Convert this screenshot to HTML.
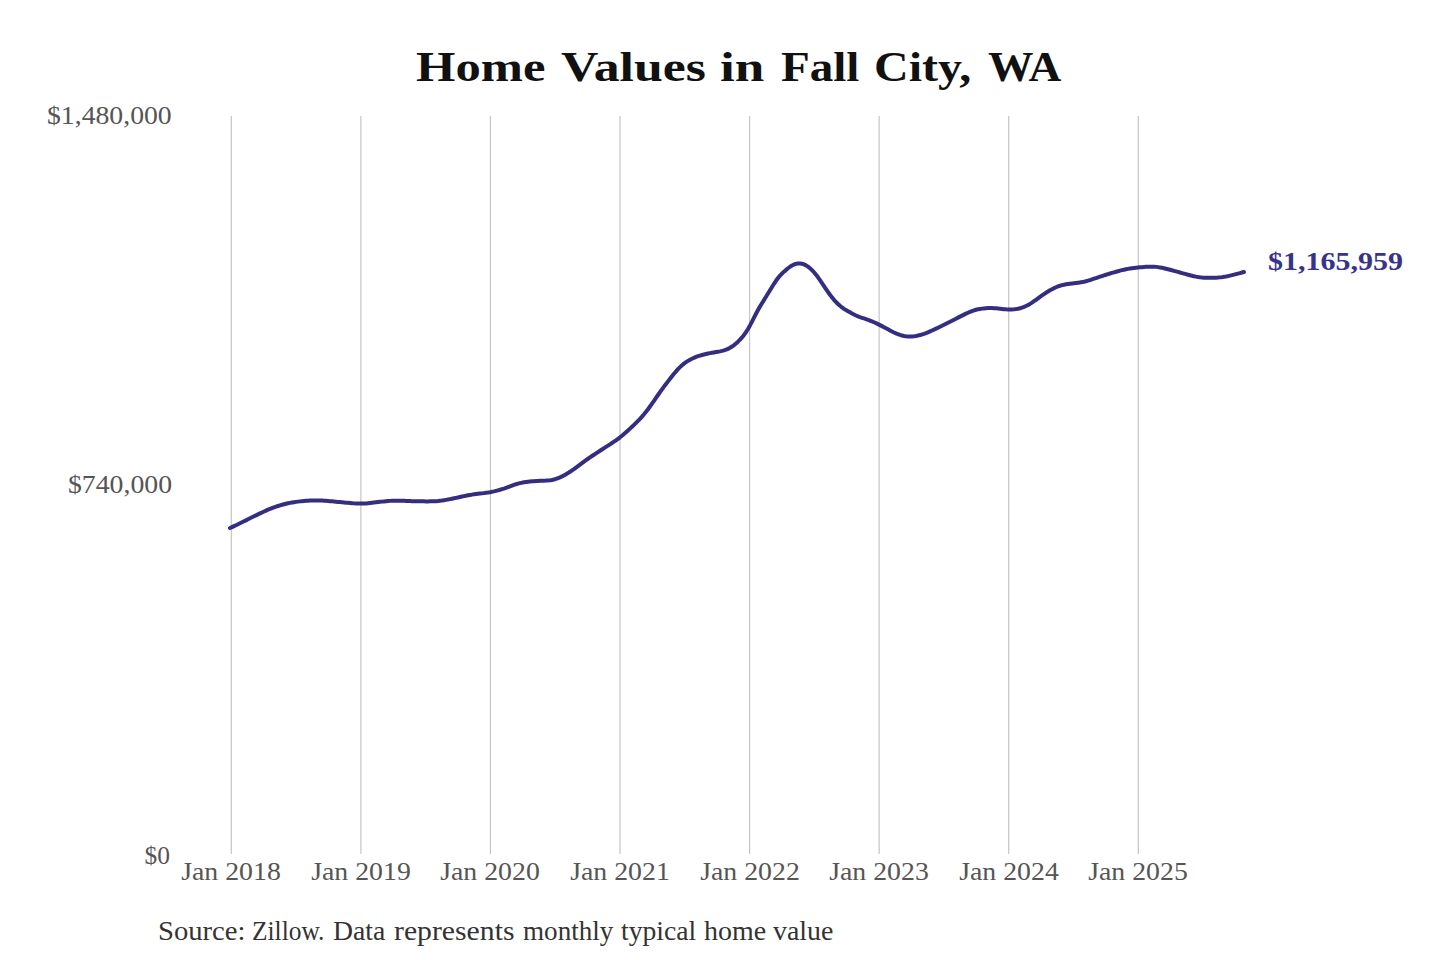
<!DOCTYPE html>
<html><head><meta charset="utf-8"><style>
html,body{margin:0;padding:0;background:#fff;width:1440px;height:960px;overflow:hidden}
.t{position:absolute;font-family:"Liberation Serif",serif;line-height:1;white-space:nowrap;transform-origin:0 0}
.xl{position:absolute;width:100px;text-align:center;top:859.14px;font-family:"Liberation Serif",serif;font-size:25.5px;line-height:1;color:#555;white-space:nowrap;transform:scaleX(1.09);transform-origin:50% 0}
svg{position:absolute;left:0;top:0}
</style></head><body>
<svg width="1440" height="960" viewBox="0 0 1440 960">
<g stroke="#c4c4c4" stroke-width="1.2">
<line x1="231.30" y1="116" x2="231.30" y2="854"/>
<line x1="360.87" y1="116" x2="360.87" y2="854"/>
<line x1="490.44" y1="116" x2="490.44" y2="854"/>
<line x1="620.01" y1="116" x2="620.01" y2="854"/>
<line x1="749.58" y1="116" x2="749.58" y2="854"/>
<line x1="879.15" y1="116" x2="879.15" y2="854"/>
<line x1="1008.72" y1="116" x2="1008.72" y2="854"/>
<line x1="1138.29" y1="116" x2="1138.29" y2="854"/>
</g>
<path d="M230.0,528.00 L232.0,527.07 L234.0,526.14 L236.0,525.20 L238.0,524.25 L240.0,523.29 L242.0,522.32 L244.0,521.33 L246.0,520.34 L248.0,519.33 L250.0,518.33 L252.0,517.32 L254.0,516.33 L256.0,515.34 L258.0,514.36 L260.0,513.39 L262.0,512.43 L264.0,511.49 L266.0,510.58 L268.0,509.70 L270.0,508.86 L272.0,508.08 L274.0,507.34 L276.0,506.64 L278.0,505.98 L280.0,505.36 L282.0,504.78 L284.0,504.24 L286.0,503.75 L288.0,503.30 L290.0,502.89 L292.0,502.52 L294.0,502.19 L296.0,501.89 L298.0,501.62 L300.0,501.38 L302.0,501.16 L304.0,500.97 L306.0,500.80 L308.0,500.66 L310.0,500.54 L312.0,500.45 L314.0,500.40 L316.0,500.38 L318.0,500.40 L320.0,500.45 L322.0,500.54 L324.0,500.66 L326.0,500.81 L328.0,500.98 L330.0,501.16 L332.0,501.35 L334.0,501.54 L336.0,501.73 L338.0,501.92 L340.0,502.10 L342.0,502.28 L344.0,502.47 L346.0,502.66 L348.0,502.85 L350.0,503.04 L352.0,503.21 L354.0,503.37 L356.0,503.50 L358.0,503.58 L360.0,503.62 L362.0,503.60 L364.0,503.53 L366.0,503.40 L368.0,503.22 L370.0,503.00 L372.0,502.77 L374.0,502.53 L376.0,502.29 L378.0,502.06 L380.0,501.84 L382.0,501.62 L384.0,501.41 L386.0,501.21 L388.0,501.03 L390.0,500.88 L392.0,500.77 L394.0,500.69 L396.0,500.66 L398.0,500.66 L400.0,500.70 L402.0,500.76 L404.0,500.83 L406.0,500.91 L408.0,500.99 L410.0,501.07 L412.0,501.14 L414.0,501.20 L416.0,501.25 L418.0,501.29 L420.0,501.32 L422.0,501.35 L424.0,501.37 L426.0,501.38 L428.0,501.38 L430.0,501.36 L432.0,501.32 L434.0,501.25 L436.0,501.14 L438.0,500.99 L440.0,500.78 L442.0,500.53 L444.0,500.22 L446.0,499.89 L448.0,499.52 L450.0,499.14 L452.0,498.73 L454.0,498.31 L456.0,497.88 L458.0,497.44 L460.0,497.00 L462.0,496.56 L464.0,496.13 L466.0,495.72 L468.0,495.32 L470.0,494.96 L472.0,494.64 L474.0,494.35 L476.0,494.09 L478.0,493.84 L480.0,493.61 L482.0,493.38 L484.0,493.13 L486.0,492.85 L488.0,492.55 L490.0,492.20 L492.0,491.80 L494.0,491.36 L496.0,490.87 L498.0,490.34 L500.0,489.78 L502.0,489.17 L504.0,488.54 L506.0,487.86 L508.0,487.14 L510.0,486.40 L512.0,485.64 L514.0,484.91 L516.0,484.23 L518.0,483.62 L520.0,483.10 L522.0,482.66 L524.0,482.29 L526.0,481.99 L528.0,481.74 L530.0,481.53 L532.0,481.34 L534.0,481.17 L536.0,481.02 L538.0,480.90 L540.0,480.80 L542.0,480.73 L544.0,480.68 L546.0,480.62 L548.0,480.50 L550.0,480.30 L552.0,479.97 L554.0,479.51 L556.0,478.92 L558.0,478.19 L560.0,477.35 L562.0,476.41 L564.0,475.38 L566.0,474.26 L568.0,473.07 L570.0,471.80 L572.0,470.45 L574.0,469.04 L576.0,467.57 L578.0,466.07 L580.0,464.56 L582.0,463.06 L584.0,461.59 L586.0,460.15 L588.0,458.75 L590.0,457.38 L592.0,456.03 L594.0,454.71 L596.0,453.39 L598.0,452.08 L600.0,450.78 L602.0,449.48 L604.0,448.18 L606.0,446.90 L608.0,445.63 L610.0,444.34 L612.0,443.04 L614.0,441.70 L616.0,440.30 L618.0,438.84 L620.0,437.30 L622.0,435.68 L624.0,434.00 L626.0,432.26 L628.0,430.47 L630.0,428.64 L632.0,426.77 L634.0,424.86 L636.0,422.91 L638.0,420.89 L640.0,418.80 L642.0,416.61 L644.0,414.28 L646.0,411.82 L648.0,409.23 L650.0,406.51 L652.0,403.69 L654.0,400.81 L656.0,397.89 L658.0,394.99 L660.0,392.13 L662.0,389.34 L664.0,386.63 L666.0,383.98 L668.0,381.39 L670.0,378.84 L672.0,376.32 L674.0,373.85 L676.0,371.45 L678.0,369.19 L680.0,367.11 L682.0,365.25 L684.0,363.60 L686.0,362.16 L688.0,360.88 L690.0,359.73 L692.0,358.71 L694.0,357.78 L696.0,356.95 L698.0,356.21 L700.0,355.56 L702.0,354.98 L704.0,354.46 L706.0,353.98 L708.0,353.54 L710.0,353.14 L712.0,352.77 L714.0,352.42 L716.0,352.07 L718.0,351.72 L720.0,351.34 L722.0,350.91 L724.0,350.38 L726.0,349.71 L728.0,348.86 L730.0,347.81 L732.0,346.56 L734.0,345.12 L736.0,343.49 L738.0,341.67 L740.0,339.66 L742.0,337.44 L744.0,334.95 L746.0,332.15 L748.0,328.97 L750.0,325.43 L752.0,321.61 L754.0,317.66 L756.0,313.76 L758.0,310.04 L760.0,306.54 L762.0,303.21 L764.0,299.97 L766.0,296.75 L768.0,293.50 L770.0,290.22 L772.0,286.96 L774.0,283.77 L776.0,280.77 L778.0,278.05 L780.0,275.65 L782.0,273.54 L784.0,271.65 L786.0,269.89 L788.0,268.23 L790.0,266.74 L792.0,265.48 L794.0,264.49 L796.0,263.81 L798.0,263.44 L800.0,263.41 L802.0,263.73 L804.0,264.38 L806.0,265.37 L808.0,266.66 L810.0,268.24 L812.0,270.11 L814.0,272.26 L816.0,274.67 L818.0,277.32 L820.0,280.14 L822.0,283.07 L824.0,286.06 L826.0,289.05 L828.0,291.98 L830.0,294.77 L832.0,297.38 L834.0,299.79 L836.0,301.99 L838.0,304.00 L840.0,305.81 L842.0,307.43 L844.0,308.85 L846.0,310.10 L848.0,311.25 L850.0,312.36 L852.0,313.45 L854.0,314.52 L856.0,315.51 L858.0,316.38 L860.0,317.13 L862.0,317.80 L864.0,318.44 L866.0,319.10 L868.0,319.81 L870.0,320.57 L872.0,321.39 L874.0,322.25 L876.0,323.15 L878.0,324.10 L880.0,325.09 L882.0,326.12 L884.0,327.18 L886.0,328.26 L888.0,329.34 L890.0,330.42 L892.0,331.47 L894.0,332.47 L896.0,333.40 L898.0,334.23 L900.0,334.94 L902.0,335.53 L904.0,335.97 L906.0,336.27 L908.0,336.44 L910.0,336.49 L912.0,336.43 L914.0,336.25 L916.0,335.96 L918.0,335.56 L920.0,335.06 L922.0,334.47 L924.0,333.80 L926.0,333.07 L928.0,332.27 L930.0,331.42 L932.0,330.54 L934.0,329.62 L936.0,328.68 L938.0,327.72 L940.0,326.73 L942.0,325.73 L944.0,324.73 L946.0,323.72 L948.0,322.71 L950.0,321.70 L952.0,320.69 L954.0,319.68 L956.0,318.66 L958.0,317.65 L960.0,316.64 L962.0,315.63 L964.0,314.64 L966.0,313.66 L968.0,312.72 L970.0,311.83 L972.0,311.03 L974.0,310.33 L976.0,309.75 L978.0,309.28 L980.0,308.91 L982.0,308.62 L984.0,308.39 L986.0,308.22 L988.0,308.11 L990.0,308.07 L992.0,308.10 L994.0,308.19 L996.0,308.35 L998.0,308.55 L1000.0,308.76 L1002.0,308.98 L1004.0,309.18 L1006.0,309.34 L1008.0,309.44 L1010.0,309.47 L1012.0,309.43 L1014.0,309.30 L1016.0,309.07 L1018.0,308.73 L1020.0,308.26 L1022.0,307.65 L1024.0,306.91 L1026.0,306.04 L1028.0,305.03 L1030.0,303.89 L1032.0,302.61 L1034.0,301.22 L1036.0,299.77 L1038.0,298.29 L1040.0,296.83 L1042.0,295.42 L1044.0,294.06 L1046.0,292.75 L1048.0,291.50 L1050.0,290.32 L1052.0,289.21 L1054.0,288.19 L1056.0,287.27 L1058.0,286.45 L1060.0,285.75 L1062.0,285.17 L1064.0,284.69 L1066.0,284.30 L1068.0,283.99 L1070.0,283.71 L1072.0,283.45 L1074.0,283.21 L1076.0,282.95 L1078.0,282.69 L1080.0,282.41 L1082.0,282.09 L1084.0,281.70 L1086.0,281.22 L1088.0,280.67 L1090.0,280.05 L1092.0,279.39 L1094.0,278.72 L1096.0,278.04 L1098.0,277.37 L1100.0,276.71 L1102.0,276.05 L1104.0,275.41 L1106.0,274.77 L1108.0,274.14 L1110.0,273.53 L1112.0,272.93 L1114.0,272.34 L1116.0,271.77 L1118.0,271.21 L1120.0,270.68 L1122.0,270.17 L1124.0,269.69 L1126.0,269.26 L1128.0,268.88 L1130.0,268.54 L1132.0,268.24 L1134.0,267.99 L1136.0,267.75 L1138.0,267.54 L1140.0,267.33 L1142.0,267.14 L1144.0,266.96 L1146.0,266.81 L1148.0,266.70 L1150.0,266.64 L1152.0,266.65 L1154.0,266.72 L1156.0,266.88 L1158.0,267.12 L1160.0,267.43 L1162.0,267.81 L1164.0,268.24 L1166.0,268.72 L1168.0,269.22 L1170.0,269.74 L1172.0,270.28 L1174.0,270.82 L1176.0,271.38 L1178.0,271.94 L1180.0,272.50 L1182.0,273.06 L1184.0,273.62 L1186.0,274.17 L1188.0,274.71 L1190.0,275.24 L1192.0,275.74 L1194.0,276.22 L1196.0,276.65 L1198.0,277.03 L1200.0,277.33 L1202.0,277.56 L1204.0,277.72 L1206.0,277.82 L1208.0,277.86 L1210.0,277.86 L1212.0,277.83 L1214.0,277.77 L1216.0,277.68 L1218.0,277.55 L1220.0,277.37 L1222.0,277.14 L1224.0,276.85 L1226.0,276.50 L1228.0,276.09 L1230.0,275.64 L1232.0,275.15 L1234.0,274.65 L1236.0,274.13 L1238.0,273.61 L1240.0,273.07 L1242.0,272.53 L1244.0,271.98" fill="none" stroke="#332e80" stroke-width="4" stroke-linecap="round" stroke-linejoin="round"/>
</svg>
<div class="t" style="left:416.30px;top:45.71px;font-size:42.5px;font-weight:700;color:#111;transform:scaleX(1.1917)">Home</div>
<div class="t" style="left:561.30px;top:45.71px;font-size:42.5px;font-weight:700;color:#111;transform:scaleX(1.2178)">Values</div>
<div class="t" style="left:720.05px;top:45.71px;font-size:42.5px;font-weight:700;color:#111;transform:scaleX(1.25)">in</div>
<div class="t" style="left:781.30px;top:45.71px;font-size:42.5px;font-weight:700;color:#111;transform:scaleX(1.1071)">Fall</div>
<div class="t" style="left:874.04px;top:45.71px;font-size:42.5px;font-weight:700;color:#111;transform:scaleX(1.1289)">City,</div>
<div class="t" style="left:987.50px;top:45.71px;font-size:42.5px;font-weight:700;color:#111;transform:scaleX(1.0696)">WA</div>
<div class="t" style="left:158.42px;top:917.81px;font-size:26.5px;font-weight:400;color:#333;transform:scaleX(1.0808)">Source:</div>
<div class="t" style="left:251.54px;top:917.81px;font-size:26.5px;font-weight:400;color:#333;transform:scaleX(0.9589)">Zillow.</div>
<div class="t" style="left:332.76px;top:917.81px;font-size:26.5px;font-weight:400;color:#333;transform:scaleX(1.0449)">Data</div>
<div class="t" style="left:393.80px;top:917.81px;font-size:26.5px;font-weight:400;color:#333;transform:scaleX(1.1215)">represents</div>
<div class="t" style="left:522.50px;top:917.81px;font-size:26.5px;font-weight:400;color:#333;transform:scaleX(1.0227)">monthly</div>
<div class="t" style="left:621.30px;top:917.81px;font-size:26.5px;font-weight:400;color:#333;transform:scaleX(1.0417)">typical</div>
<div class="t" style="left:703.80px;top:917.81px;font-size:26.5px;font-weight:400;color:#333;transform:scaleX(1.0552)">home</div>
<div class="t" style="left:772.50px;top:917.81px;font-size:26.5px;font-weight:400;color:#333;transform:scaleX(1.0526)">value</div>
<div class="t" id="y1" style="left:47.00px;top:103.44px;font-size:25.5px;font-weight:400;color:#555;transform:scaleX(1.087)">$1,480,000</div>
<div class="t" id="y2" style="left:67.50px;top:472.04px;font-size:25.5px;font-weight:400;color:#555;transform:scaleX(1.088)">$740,000</div>
<div class="t" id="y0" style="left:144.50px;top:843.04px;font-size:25.5px;font-weight:400;color:#555;transform:scaleX(1.0)">$0</div>
<div class="t" id="val" style="left:1268.30px;top:248.76px;font-size:25.0px;font-weight:700;color:#38338a;transform:scaleX(1.2)">$1,165,959</div>
<div class="xl" style="left:181.30px">Jan 2018</div>
<div class="xl" style="left:310.87px">Jan 2019</div>
<div class="xl" style="left:440.44px">Jan 2020</div>
<div class="xl" style="left:570.01px">Jan 2021</div>
<div class="xl" style="left:699.58px">Jan 2022</div>
<div class="xl" style="left:829.15px">Jan 2023</div>
<div class="xl" style="left:958.72px">Jan 2024</div>
<div class="xl" style="left:1088.29px">Jan 2025</div>
</body></html>
